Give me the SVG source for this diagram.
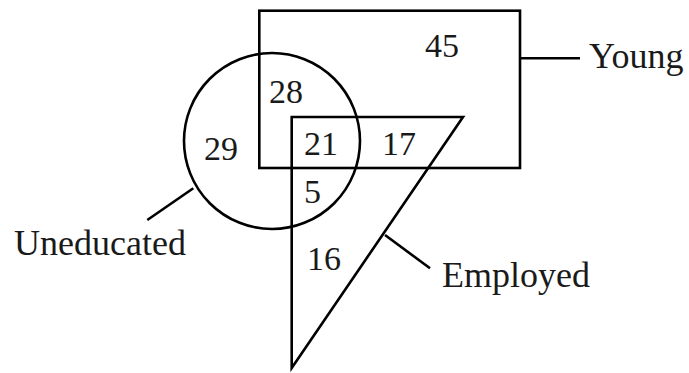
<svg xmlns="http://www.w3.org/2000/svg" width="689" height="373" viewBox="0 0 689 373">
<style>
.s{fill:none;stroke:#000;stroke-width:2.6;stroke-linejoin:miter}
.l{fill:none;stroke:#000;stroke-width:2.6}
.t{font-family:"Liberation Serif","Times New Roman",serif;fill:#1a1a1a}
.n{font-size:34px}
.lab{font-size:36px}
</style>
<rect width="689" height="373" fill="#fff"/>
<g id="young">
<rect class="s" x="259.3" y="10.7" width="260.7" height="157.3"/>
<text class="t lab" x="589" y="68">Young</text>
</g>
<g id="uneducated">
<circle class="s" cx="272" cy="141" r="88"/>
<text class="t lab" x="14" y="255">Uneducated</text>
</g>
<g id="employed">
<polygon class="s" points="291.7,117 463,117 291.7,368"/>
<text class="t lab" x="442" y="287">Employed</text>
</g>
<g id="regions">
<text class="t n" x="425" y="57">45</text>
<text class="t n" x="269" y="103">28</text>
<text class="t n" x="204" y="160">29</text>
<text class="t n" x="304" y="155">21</text>
<text class="t n" x="382" y="155">17</text>
<text class="t n" x="304" y="203">5</text>
<text class="t n" x="307" y="270">16</text>
</g>
<g id="connectors">
<line class="l" x1="520" y1="58.3" x2="580" y2="58.3"/>
<line class="l" x1="193.3" y1="188.3" x2="147.3" y2="220"/>
<line class="l" x1="385" y1="235" x2="430" y2="268.3"/>
</g>
</svg>
